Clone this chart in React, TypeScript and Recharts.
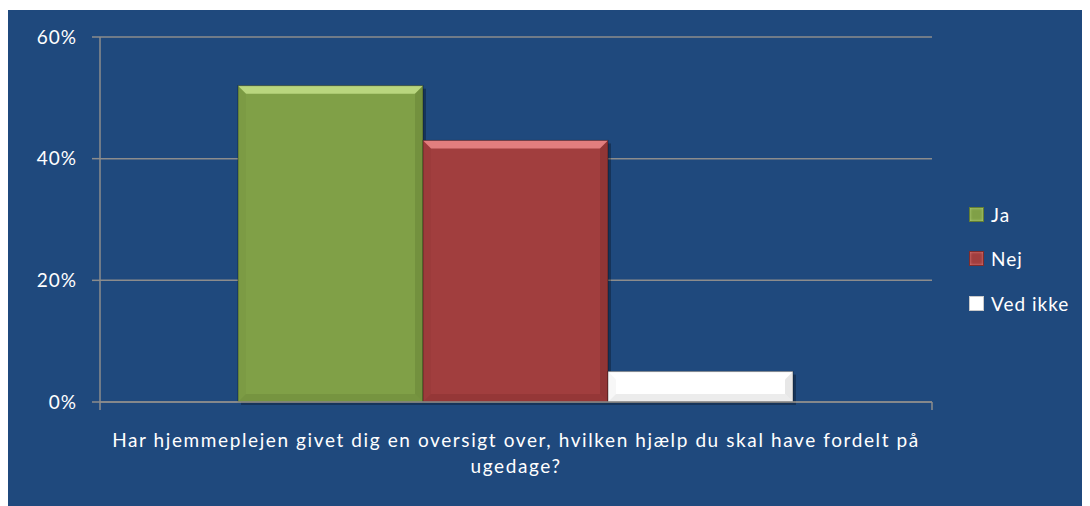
import React from "react";
import { BarChart, Bar, XAxis, YAxis, CartesianGrid } from "recharts";

const categories = ["Har hjemmeplejen givet dig en oversigt over, hvilken hjælp du skal have fordelt på ugedage?"];
const categoryLines = [["Har hjemmeplejen givet dig en oversigt over, hvilken hjælp du skal have fordelt på", "ugedage?"]];
const seriesNames = ["Ja", "Nej", "Ved ikke"];
const jaValues = [0.52];
const nejValues = [0.43];
const vedIkkeValues = [0.05];
const yTicks = [0, 0.2, 0.4, 0.6];

const seriesColors = ["#80A047", "#A13E3E", "#FFFFFF"];
const seriesLight = ["#B9D67E", "#E27E7E", "#FFFFFF"];
const seriesDark = ["#637E33", "#7E2C2C", "#C9C9C9"];

const data = categories.map((c, i) => ({
  name: c,
  Ja: jaValues[i],
  Nej: nejValues[i],
  "Ved ikke": vedIkkeValues[i],
}));

const FONT = "Lato, 'Open Sans', sans-serif";
const GRAY = "#8C8C8C";

function makeShape(idx: number) {
  return (props: any) => {
    const { x, y, width, height } = props;
    if (!height || height <= 0) return <g />;
    const b = Math.min(8, height / 2, width / 2);
    const fill = seriesColors[idx];
    const light = seriesLight[idx];
    const dark = seriesDark[idx];
    return (
      <g>
        <rect x={x + 3} y={y + 3} width={width} height={height} fill="rgba(0,0,0,0.28)" />
        <rect x={x} y={y} width={width} height={height} fill={fill} />
        <polygon
          points={`${x},${y} ${x + width},${y} ${x + width - b},${y + b} ${x + b},${y + b}`}
          fill={light}
        />
        <polygon
          points={`${x + width},${y} ${x + width},${y + height} ${x + width - b},${y + height - b} ${x + width - b},${y + b}`}
          fill={dark}
          opacity={0.45}
        />
        <polygon
          points={`${x},${y + height} ${x + width},${y + height} ${x + width - b},${y + height - b} ${x + b},${y + height - b}`}
          fill={dark}
          opacity={0.35}
        />
        <polygon
          points={`${x},${y} ${x + b},${y + b} ${x + b},${y + height - b} ${x},${y + height}`}
          fill={dark}
          opacity={0.15}
        />
        <rect x={x} y={y} width={width} height={height} fill="none" stroke="rgba(0,0,0,0.35)" strokeWidth={1} />
      </g>
    );
  };
}

const CategoryTick = (props: any) => {
  const { x, y, index, width } = props;
  const lines = categoryLines[index] || [String(props.payload?.value ?? "")];
  const half = typeof width === "number" ? width / 2 : 0;
  return (
    <g>
      {half > 0 && (
        <>
          <line x1={x - half} y1={y} x2={x - half} y2={y + 8} stroke={GRAY} strokeWidth={1.5} />
          <line x1={x + half} y1={y} x2={x + half} y2={y + 8} stroke={GRAY} strokeWidth={1.5} />
        </>
      )}
      {lines.map((l, i) => (
        <text
          key={i}
          x={x}
          y={y + 45 + i * 26}
          textAnchor="middle"
          fill="#FFFFFF"
          fontFamily={FONT}
          fontSize={19}
          letterSpacing={1.6}
        >
          {l}
        </text>
      ))}
    </g>
  );
};

export default function App() {
  return (
    <div
      style={{
        position: "relative",
        width: 1082,
        height: 496,
        marginTop: 2,
        background: "#1F497D",
        overflow: "hidden",
        fontFamily: FONT,
      }}
    >
      <BarChart
        width={1082}
        height={496}
        data={data}
        margin={{ top: 27, right: 158, bottom: 0, left: 0 }}
        barCategoryGap={138}
        barGap={0}
      >
        <CartesianGrid horizontal vertical={false} stroke={GRAY} strokeWidth={1.5} />
        <XAxis
          dataKey="name"
          height={104}
          axisLine={{ stroke: GRAY, strokeWidth: 1.5 }}
          tickLine={false}
          tickSize={0}
          tickMargin={0}
          tick={<CategoryTick />}
          interval={0}
        />
        <YAxis
          width={92}
          domain={[0, 0.6]}
          ticks={yTicks}
          tickFormatter={(v: number) => `${Math.round(v * 100)}%`}
          axisLine={{ stroke: GRAY, strokeWidth: 1.5 }}
          tickLine={{ stroke: GRAY, strokeWidth: 1.5 }}
          tickSize={8}
          tickMargin={15}
          tick={{ fill: "#FFFFFF", fontSize: 19, fontFamily: FONT, letterSpacing: 1 }}
        />
        {seriesNames.map((s, i) => (
          <Bar
            key={s}
            dataKey={s}
            fill={seriesColors[i]}
            isAnimationActive={false}
            shape={makeShape(i)}
          />
        ))}
      </BarChart>
      <div style={{ position: "absolute", left: 961, top: 182, color: "#FFFFFF", fontSize: 19, letterSpacing: 1 }}>
        {seriesNames.map((s, i) => (
          <div key={s} style={{ display: "flex", alignItems: "center", height: 44.5 }}>
            <span
              style={{
                display: "inline-block",
                width: 13,
                height: 13,
                background: seriesColors[i],
                border: `1px solid ${seriesDark[i]}`,
                boxShadow: `inset 0 0 3px ${seriesLight[i]}`,
                marginRight: 7,
              }}
            />
            <span>{s}</span>
          </div>
        ))}
      </div>
    </div>
  );
}
